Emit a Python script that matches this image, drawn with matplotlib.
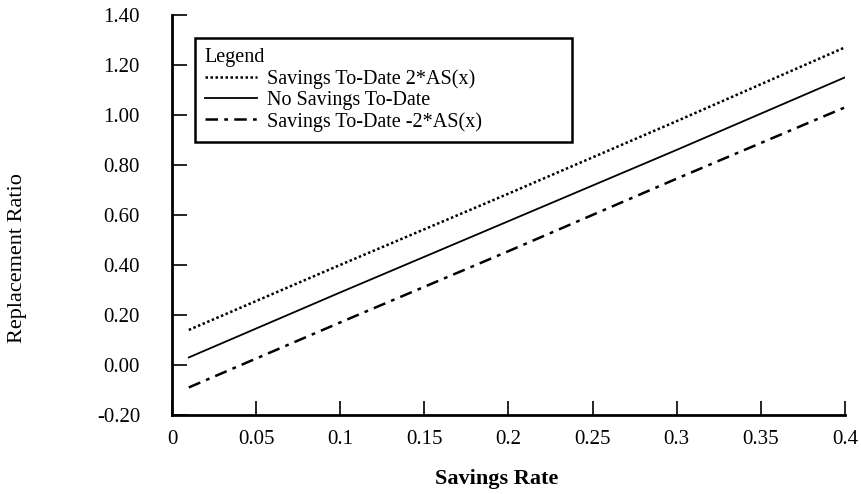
import matplotlib
matplotlib.use("Agg")
import matplotlib.pyplot as plt
import numpy as np

plt.rcParams['font.family'] = ['Liberation Serif', 'DejaVu Serif']

savings_rate = [0.01, 0.1, 0.2, 0.3, 0.4]
plus_2as = [0.14, 0.40, 0.685, 0.975, 1.27]
no_savings = [0.03, 0.29, 0.575, 0.86, 1.15]
minus_2as = [-0.09, 0.17, 0.455, 0.745, 1.03]

x_ticks = [0, 0.05, 0.1, 0.15, 0.2, 0.25, 0.3, 0.35, 0.4]
x_labels = ['0', '0.05', '0.1', '0.15', '0.2', '0.25', '0.3', '0.35', '0.4']
y_ticks = [-0.2, 0.0, 0.2, 0.4, 0.6, 0.8, 1.0, 1.2, 1.4]

fig = plt.figure(figsize=(8.62, 4.94), dpi=100)
ax = fig.add_axes([0.1995, 0.160, 0.7808, 0.810])

ax.plot(savings_rate, plus_2as, color='black', linestyle=(0, (1, 1)), linewidth=1.8,
        label='Savings To-Date 2*AS(x)')
ax.plot(savings_rate, no_savings, color='black', linestyle='-', linewidth=1.3,
        label='No Savings To-Date')
ax.plot(savings_rate, minus_2as, color='black', linestyle=(0, (5, 2.5, 1.5, 2.5)), linewidth=1.8,
        label='Savings To-Date -2*AS(x)')

ax.set_xlim(0, 0.4)
ax.set_ylim(-0.2, 1.4)
ax.set_xticks(x_ticks)
ax.set_xticklabels(x_labels)
ax.set_yticks(y_ticks)
ax.set_yticklabels(['%.2f' % v for v in y_ticks])

ax.spines['top'].set_visible(False)
ax.spines['right'].set_visible(False)
ax.spines['left'].set_linewidth(2)
ax.spines['bottom'].set_linewidth(2)
ax.tick_params(axis='y', direction='in', length=11, width=1.2, pad=23, labelsize=15)
ax.tick_params(axis='x', direction='in', length=10, width=1.2, pad=11, labelsize=15)

ax.set_xlabel('Savings Rate', fontsize=16, fontweight='bold')
ax.set_ylabel('Replacement Ratio', fontsize=16)
ax.xaxis.set_label_coords(0.483, -0.135)
ax.yaxis.set_label_coords(-0.2155, 0.3925)

leg = ax.legend(loc='upper left', bbox_to_anchor=(0.034, 0.6975, 0.560, 0.245), mode='expand',
                borderaxespad=0, title='Legend', fontsize=14.5, title_fontsize=14.5,
                fancybox=False, edgecolor='black', framealpha=1, handlelength=2.6,
                handletextpad=0.5, labelspacing=0.1, borderpad=0.5, alignment='left')
leg.get_frame().set_linewidth(1.8)

fig.savefig('out.png', dpi=100)
